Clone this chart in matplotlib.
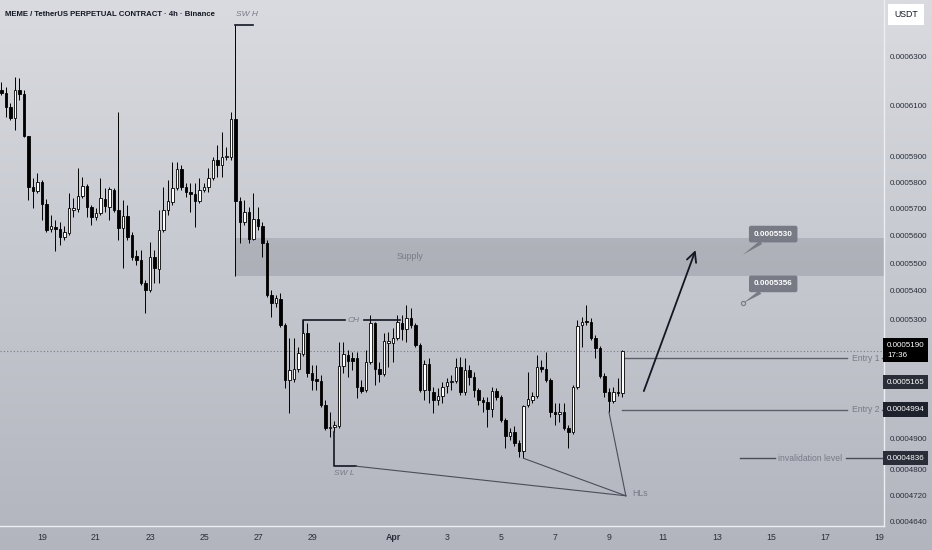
import numpy as np
import pandas as pd
import matplotlib.pyplot as plt
import matplotlib.dates as mdates
from matplotlib.colors import LinearSegmentedColormap
from matplotlib.transforms import blended_transform_factory
from matplotlib.ticker import NullLocator, NullFormatter

# precios en unidades de 1e-7 USDT (velas de 4h, desde el 17/03 12:00)
escala = 1e-7
aperturas = [6164, 6152, 6096, 6052, 6164, 6148, 5980, 5782, 5767, 5802,
             5718, 5625, 5632, 5625, 5595, 5610, 5696, 5699, 5748, 5786,
             5707, 5670, 5684, 5737, 5707, 5771, 5696, 5629, 5673, 5602,
             5525, 5511, 5428, 5403, 5522, 5479, 5621, 5696, 5725, 5779,
             5852, 5782, 5763, 5756, 5729, 5771, 5782, 5817, 5886, 5867,
             5898, 5898, 6048, 5729, 5651, 5688, 5588, 5662, 5636, 5573,
             5385, 5357, 5371, 5280, 5092, 5095, 5128, 5180, 5252, 5115,
             5095, 5089, 5009, 4933, 4937, 4940, 5139, 5176, 5166, 5166,
             5069, 5058, 5152, 5287, 5128, 5112, 5218, 5218, 5235, 5287,
             5266, 5304, 5280, 5211, 5058, 5146, 5052, 5025, 5038, 5072,
             5085, 5089, 5135, 5052, 5125, 5102, 5058, 5025, 5019, 4996,
             5055, 5035, 4959, 4907, 4920, 4884, 4859, 5009, 5025, 5038,
             5135, 5128, 5092, 4986, 4979, 4986, 4933, 4920, 5069, 5280,
             5294, 5290, 5235, 5201, 5105, 5052, 5022, 5052, 5048]
maximos = [6197, 6177, 6112, 6217, 6213, 6164, 5980, 5817, 5836, 5809,
           5737, 5677, 5658, 5651, 5636, 5760, 5741, 5855, 5821, 5794,
           5714, 5703, 5817, 5779, 5782, 5779, 6076, 5733, 5714, 5614,
           5547, 5547, 5439, 5577, 5547, 5696, 5782, 5809, 5878, 5878,
           5867, 5798, 5798, 5798, 5817, 5798, 5855, 5898, 5945, 5996,
           5937, 6076, 6434, 5744, 5733, 5707, 5760, 5707, 5651, 5584,
           5403, 5385, 5393, 5287, 5235, 5235, 5204, 5297, 5287, 5142,
           5142, 5109, 5025, 4986, 4956, 5221, 5221, 5194, 5187, 5187,
           5092, 5194, 5315, 5290, 5152, 5252, 5255, 5269, 5315, 5315,
           5350, 5339, 5287, 5218, 5159, 5166, 5069, 5065, 5085, 5099,
           5109, 5166, 5170, 5166, 5142, 5118, 5065, 5035, 5035, 5069,
           5065, 5042, 4966, 4933, 4940, 4894, 5009, 5118, 5052, 5176,
           5159, 5187, 5099, 5015, 5015, 5015, 4943, 5075, 5297, 5308,
           5350, 5304, 5245, 5207, 5115, 5065, 5069, 5099, 5194]
minimos = [6144, 6056, 6044, 6004, 6124, 5976, 5733, 5703, 5760, 5658,
           5614, 5614, 5544, 5566, 5584, 5602, 5670, 5688, 5741, 5670,
           5640, 5658, 5677, 5688, 5658, 5688, 5584, 5482, 5584, 5511,
           5493, 5421, 5322, 5396, 5428, 5428, 5614, 5677, 5714, 5771,
           5771, 5744, 5688, 5632, 5722, 5763, 5763, 5809, 5821, 5821,
           5886, 5886, 5453, 5573, 5640, 5573, 5584, 5621, 5522, 5378,
           5308, 5343, 5273, 5065, 4982, 5085, 5118, 5173, 5102, 5058,
           5058, 5002, 4927, 4904, 4920, 4933, 5115, 5102, 5125, 5032,
           5048, 5052, 5146, 5075, 5085, 5105, 5135, 5152, 5228, 5228,
           5221, 5269, 5204, 5052, 5025, 5015, 4982, 5009, 5015, 5048,
           5058, 5082, 5042, 5042, 5075, 5035, 5009, 4986, 4937, 4969,
           5025, 4953, 4868, 4894, 4875, 4840, 4836, 5002, 5015, 5032,
           5118, 5085, 4969, 4943, 4953, 4927, 4868, 4914, 5062, 5204,
           5280, 5228, 5166, 5099, 5035, 4986, 5015, 5038, 5035]
cierres = [6152, 6096, 6052, 6164, 6148, 5980, 5782, 5767, 5802, 5718,
           5621, 5636, 5625, 5595, 5614, 5703, 5703, 5748, 5786, 5707,
           5670, 5684, 5741, 5710, 5775, 5696, 5629, 5673, 5595, 5522,
           5511, 5428, 5403, 5522, 5482, 5621, 5696, 5729, 5779, 5852,
           5782, 5763, 5756, 5729, 5771, 5782, 5817, 5886, 5867, 5898,
           5902, 6048, 5729, 5651, 5688, 5588, 5662, 5636, 5573, 5385,
           5357, 5375, 5280, 5092, 5125, 5128, 5183, 5252, 5115, 5092,
           5089, 5009, 4933, 4937, 4943, 5139, 5180, 5156, 5156, 5069,
           5055, 5152, 5287, 5128, 5112, 5225, 5225, 5235, 5290, 5266,
           5304, 5280, 5211, 5058, 5146, 5058, 5025, 5038, 5069, 5085,
           5089, 5135, 5052, 5125, 5102, 5058, 5025, 5019, 4996, 5055,
           5035, 4959, 4907, 4920, 4884, 4859, 5005, 5028, 5038, 5135,
           5128, 5092, 4986, 4979, 4986, 4933, 4920, 5069, 5276, 5290,
           5290, 5235, 5201, 5105, 5052, 5022, 5052, 5048, 5190]

ticks_y = [0.00063, 0.00061, 0.00059, 0.00058, 0.00057, 0.00056, 0.00055,
           0.00054, 0.00053, 0.00049, 0.00048, 0.000472, 0.000464]
ticks_x = ['2025-03-19', '2025-03-21', '2025-03-23', '2025-03-25', '2025-03-27',
           '2025-03-29', '2025-04-01', '2025-04-03', '2025-04-05', '2025-04-07',
           '2025-04-09', '2025-04-11', '2025-04-13', '2025-04-15', '2025-04-17',
           '2025-04-19']
etiquetas_x = ['19', '21', '23', '25', '27', '29', 'Apr', '3', '5', '7', '9',
               '11', '13', '15', '17', '19']

precio_actual = 0.0005190
entrada_1 = 0.0005165
entrada_2 = 0.0004994
invalidacion = 0.0004836
supply_alto = 0.0005590
supply_bajo = 0.0005455
objetivo_1 = 0.0005530
objetivo_2 = 0.0005356

titulo = 'MEME / TetherUS PERPETUAL CONTRACT · 4h · Binance'

fechas = pd.date_range('2025-03-17 12:00', periods=len(aperturas), freq='4h')
t = mdates.date2num(fechas)
o = np.array(aperturas) * escala
h = np.array(maximos) * escala
l = np.array(minimos) * escala
c = np.array(cierres) * escala


def fn(s):
    return mdates.date2num(pd.Timestamp(s))


plt.rcParams['font.family'] = ['Liberation Sans', 'DejaVu Sans']
negro = '#131722'
gris = '#787b86'

fig = plt.figure(figsize=(9.32, 5.5), dpi=100)

# fondo degradado
fondo = fig.add_axes([0, 0, 1, 1], zorder=0)
cmap = LinearSegmentedColormap.from_list('fondo', ['#d9dbe0', '#b2b5be'])
fondo.imshow(np.linspace(0, 1, 256).reshape(-1, 1), aspect='auto', cmap=cmap,
             extent=[0, 1, 0, 1], origin='upper')
fondo.axis('off')

ax = fig.add_axes([0, 24 / 550, 884 / 932, 526 / 550], zorder=1)
ax.patch.set_alpha(0)
ax.set_yscale('log')
ax.set_xlim(fn('2025-03-17 10:40'), fn('2025-04-19 04:30'))
ax.set_ylim(0.0004625, 0.0006541)

# velas
alcistas = c >= o
ax.vlines(t, l, h, color='#000000', lw=0.7, zorder=2)
ax.bar(t, np.abs(c - o), bottom=np.minimum(o, c), width=0.1,
       color=np.where(alcistas, 'white', '#000000'), edgecolor='#000000', lw=0.6, zorder=3)

# zona de oferta y precio actual
ax.fill_between([fn('2025-03-26 04:00'), fn('2025-04-19 04:30')], supply_bajo, supply_alto,
                color=gris, alpha=0.3, lw=0, zorder=1)
ax.text(fn('2025-04-01 15:00'), 0.0005525, 'Supply', color=gris, ha='center', va='center',
        fontsize=6.3)
ax.axhline(precio_actual, color=gris, lw=0.8, ls=(0, (1, 2)), zorder=1)

# estructura
ax.plot([fn('2025-03-26 04:00'), fn('2025-03-26 19:30')], [0.0006434, 0.0006434], color=negro, lw=1.2)
ax.text(fn('2025-03-26 13:45'), 0.0006478, 'SW H', color=gris, style='italic',
        ha='center', va='center', fontsize=6)
ax.plot([fn('2025-03-28 16:00'), fn('2025-03-28 16:00'), fn('2025-03-30 05:00')],
        [0.0005252, 0.0005297, 0.0005297], color=negro, lw=1.2)
ax.plot([fn('2025-03-30 22:00'), fn('2025-04-01 06:00')], [0.0005297, 0.0005297], color=negro, lw=1.2)
ax.text(fn('2025-03-30 13:00'), 0.0005297, 'CH', color=gris, style='italic',
        ha='center', va='center', fontsize=6)
ax.plot([fn('2025-03-29 20:00'), fn('2025-03-29 20:00'), fn('2025-03-30 15:00')],
        [0.0004920, 0.0004811, 0.0004811], color=negro, lw=1.2)
ax.text(fn('2025-03-30 05:00'), 0.0004787, 'SW L', color=gris, style='italic',
        ha='center', va='center', fontsize=6)

# mínimos crecientes
for x0, y0 in [('2025-03-30 15:00', 0.0004811), ('2025-04-05 20:00', 0.0004836),
               ('2025-04-09 00:00', 0.0004986)]:
    ax.plot([fn(x0), fn('2025-04-09 15:00')], [y0, 0.0004718], color='#4a4e59', lw=0.8)
ax.text(fn('2025-04-10 03:30'), 0.0004724, 'HLs', color=gris, ha='center', va='center',
        fontsize=6.3)

# flecha de proyección
ax.annotate('', xy=(fn('2025-04-12 05:00'), 0.0005547), xytext=(fn('2025-04-10 07:00'), 0.0005055),
            arrowprops=dict(arrowstyle='->,head_length=0.7,head_width=0.35', color=negro, lw=1.3,
                            shrinkA=0, shrinkB=0))

# niveles de entrada e invalidación
x_fin = fn('2025-04-19 04:30')
for nivel, texto in [(entrada_1, 'Entry 1'), (entrada_2, 'Entry 2')]:
    ax.plot([fn('2025-04-09 12:00'), fn('2025-04-17 20:00')], [nivel, nivel], color='#5d606b', lw=1)
    ax.plot([fn('2025-04-19 02:30'), x_fin], [nivel, nivel], color='#5d606b', lw=1)
    ax.text(fn('2025-04-18 12:00'), nivel, texto, color=gris, ha='center', va='center',
            fontsize=6.2)
ax.plot([fn('2025-04-13 20:30'), fn('2025-04-15 03:30')], [invalidacion, invalidacion],
        color='#4a4e59', lw=1)
ax.plot([fn('2025-04-17 18:40'), x_fin], [invalidacion, invalidacion], color='#4a4e59', lw=1)
ax.text(fn('2025-04-16 11:00'), invalidacion, 'invalidation level', color=gris,
        ha='center', va='center', fontsize=6.2)

# etiquetas de precio
for valor, y_caja in [(objetivo_1, 0.0005606), (objetivo_2, 0.0005425)]:
    ax.annotate(f'{valor:.7f}', xy=(fn('2025-04-13 23:00'), valor),
                xytext=(fn('2025-04-15 02:00'), y_caja), ha='center', va='center',
                color='white', fontsize=5.8, fontweight='bold',
                bbox=dict(boxstyle='round,pad=0.6,rounding_size=0.25', fc=gris, ec='none'),
                arrowprops=dict(arrowstyle='wedge,tail_width=0.5', fc=gris, ec='none',
                                shrinkA=0, shrinkB=0))
ax.plot(fn('2025-04-13 23:00'), objetivo_2, 'o', ms=3, mfc='none', mec=gris, mew=0.8)

# ejes
for lado in ['top', 'left']:
    ax.spines[lado].set_visible(False)
for lado in ['right', 'bottom']:
    ax.spines[lado].set_color('#eceef1')
    ax.spines[lado].set_linewidth(1)

ax.yaxis.tick_right()
ax.set_yticks(ticks_y)
ax.set_yticklabels([f'{v:.7f}' for v in ticks_y])
ax.yaxis.set_minor_locator(NullLocator())
ax.yaxis.set_minor_formatter(NullFormatter())
ax.tick_params(axis='y', length=0, pad=4, labelsize=5.8, labelcolor='#2a2e39')
ax.set_xticks([fn(s) for s in ticks_x])
ax.set_xticklabels(etiquetas_x)
ax.tick_params(axis='x', length=0, pad=5, labelsize=6.3, labelcolor='#2a2e39')
ax.get_xticklabels()[6].set_fontweight('bold')

trans = blended_transform_factory(ax.transAxes, ax.transData)
for valor, texto, color, dy in [(precio_actual, '0.0005190\n17:36', '#000000', 0),
                                (entrada_1, '0.0005165', '#2a2e39', -17),
                                (entrada_2, '0.0004994', '#1e222d', 0),
                                (invalidacion, '0.0004836', '#2a2e39', 0)]:
    if '\n' in texto:
        ax.annotate(texto, xy=(1, valor), xycoords=trans, xytext=(2.2, 6.5), textcoords='offset points',
                    ha='left', va='top', color='white', fontsize=5.8,
                    linespacing=1.5, annotation_clip=False,
                    bbox=dict(boxstyle='square,pad=0.45', fc=color, ec='none'))
    else:
        ax.annotate(texto, xy=(1, valor), xycoords=trans, xytext=(2.2, dy), textcoords='offset points',
                    ha='left', va='center', color='white', fontsize=5.8,
                    annotation_clip=False,
                    bbox=dict(boxstyle='square,pad=0.45', fc=color, ec='none'))

fig.text(906 / 932, 1 - 14.5 / 550, 'USDT', ha='center', va='center', color=negro,
         fontsize=6.3, bbox=dict(boxstyle='square,pad=0.7', fc='white', ec='none'))
fig.text(5 / 932, 1 - 14 / 550, titulo, ha='left', va='center', color=negro,
         fontsize=5.6, fontweight='bold')

fig.savefig('out.png', dpi=100)
